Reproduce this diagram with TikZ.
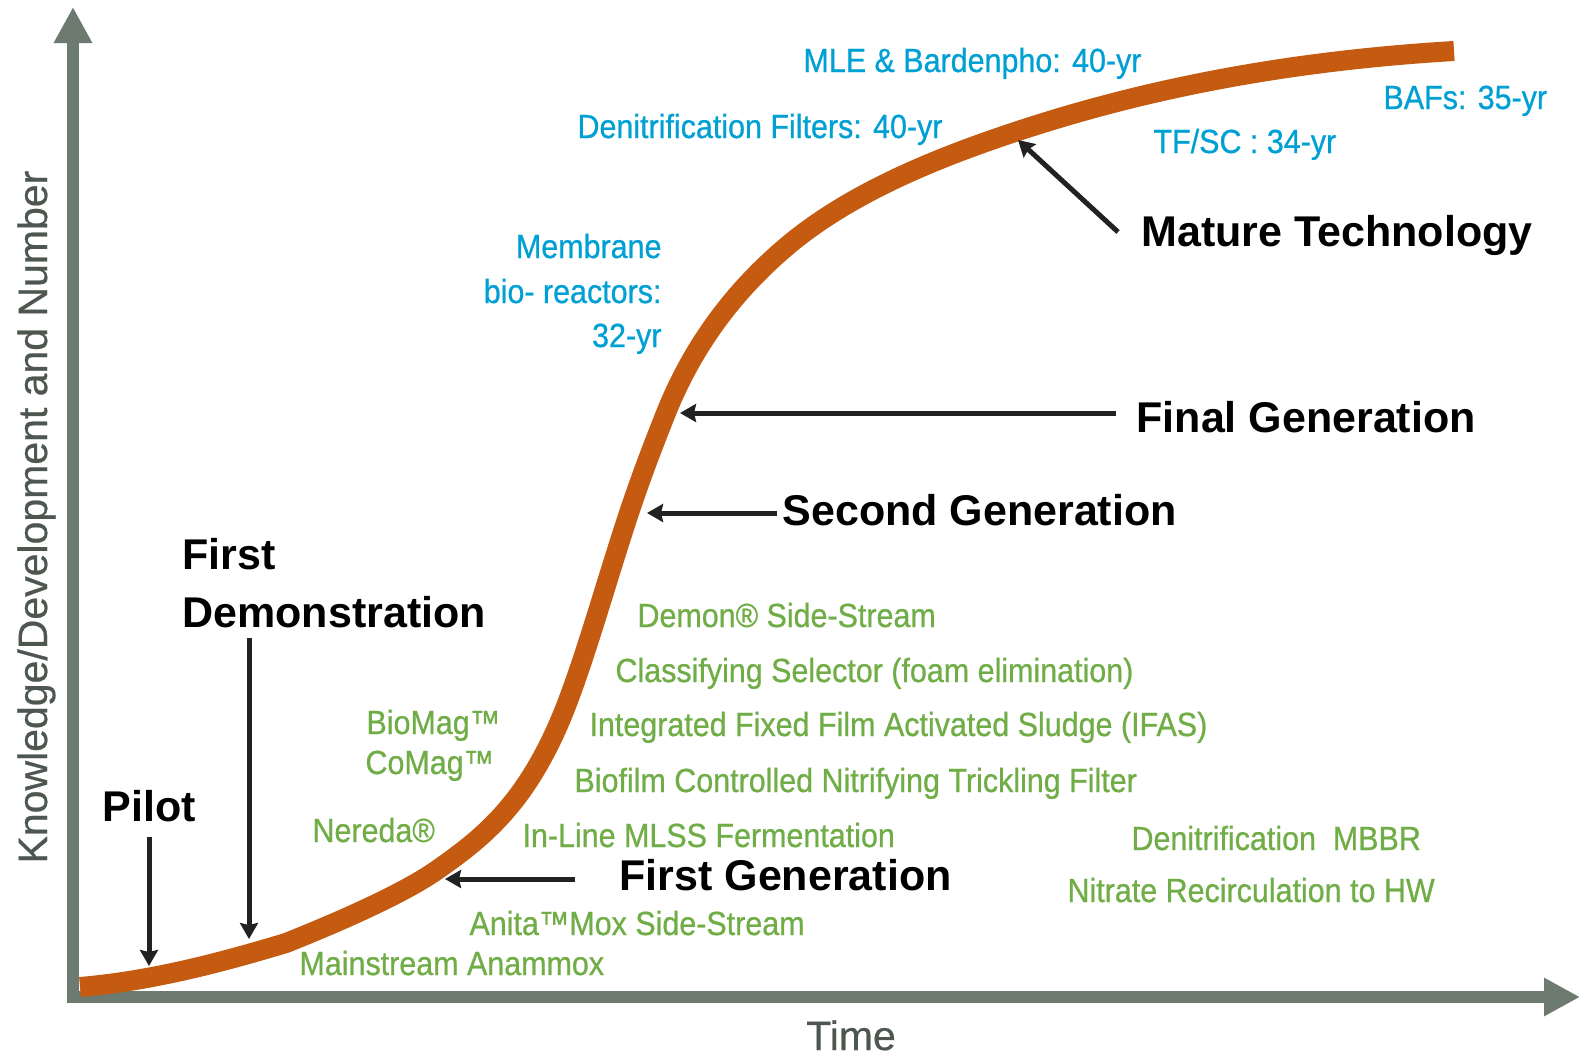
\documentclass[tikz,border=0pt]{standalone}
\usepackage{fontspec}
\setmainfont{Liberation Sans}
\newfontfamily\narrowfont[FakeStretch=0.91,FakeBold=0.7]{Liberation Sans}
\newfontfamily\axisfont[FakeBold=0.5]{Liberation Sans}
\usetikzlibrary{arrows.meta}

\definecolor{axisgray}{RGB}{109,122,112}
\definecolor{axistext}{RGB}{77,87,80}
\definecolor{curveorange}{RGB}{197,90,17}
\definecolor{techgreen}{RGB}{112,173,71}
\definecolor{ageblue}{RGB}{0,160,212}
\definecolor{arrowblack}{RGB}{34,34,34}

\tikzset{every picture/.style={line width=0.75pt}}
\tikzset{
  greenlbl/.style={anchor=base west, inner sep=0pt, text=techgreen, font=\narrowfont\fontsize{25.1}{30}\selectfont},
  bluelbl/.style={anchor=base west, inner sep=0pt, text=ageblue, font=\narrowfont\fontsize{25.1}{30}\selectfont},
  genlbl/.style={anchor=base west, inner sep=0pt, font=\bfseries\fontsize{32.25}{38}\selectfont},
  axislbl/.style={anchor=base, inner sep=0pt, text=axistext, font=\axisfont\fontsize{30.75}{36}\selectfont},
  pointer/.style={draw=arrowblack, line width=3.75pt, -{Stealth[length=12pt,width=13.5pt,inset=1.5pt]}},
  axisline/.style={draw=axisgray, line width=9pt, {Triangle[length=27pt,width=27pt]}-{Triangle[length=27pt,width=27pt]}}
}

\begin{document}
\begin{tikzpicture}[x=0.75pt,y=0.75pt,yscale=-1,xscale=1]
\useasboundingbox (0,0) rectangle (1581,1057);

% axes
\coordinate (ytip) at (73,7);
\coordinate (xtip) at (1580,997);
\draw [axisline] (ytip) |- (xtip);
\node [axislbl, rotate=90] (ylabel) at (47,517) {Knowledge/Development and Number};
\node [axislbl] (xlabel) at (851,1050) {Time};

% s-curve
\draw [curveorange, line width=15pt] (80,987) .. controls (150,981) and (216,964) .. (286,943)
  .. controls (336,923) and (402,894.5) .. (437,870)
  .. controls (482,838.5) and (521,807) .. (556,730)
  .. controls (580.3,676.5) and (604.7,585.9) .. (629,513)
  .. controls (641.3,476.1) and (653.7,443.8) .. (666,413)
  .. controls (698,333) and (746,281) .. (786,247)
  .. controls (851,191.75) and (940.7,156.5) .. (1018,131)
  .. controls (1163.3,83) and (1308.7,59.7) .. (1454,51);

% stages
\node [genlbl] (pilot) at (102,821) {Pilot};
\node [genlbl] (demo1) at (182,569) {First};
\node [genlbl] (demo2) at (182,627) {Demonstration};
\node [genlbl] (firstgen) at (619,890) {First Generation};
\node [genlbl] (secondgen) at (782,525) {Second Generation};
\node [genlbl] (finalgen) at (1136,432) {Final Generation};
\node [genlbl] (mature) at (1141,246) {Mature Technology};

\coordinate (pilotA) at (149,837);
\coordinate (pilotB) at (149,966);
\coordinate (demoA) at (249,638);
\coordinate (demoB) at (249,939);
\coordinate (firstA) at (575,879);
\coordinate (firstB) at (445,879);
\coordinate (secondA) at (777,513);
\coordinate (secondB) at (647,513);
\coordinate (finalA) at (1116,413);
\coordinate (finalB) at (680,413);
\coordinate (matureA) at (1118,232);
\coordinate (matureB) at (1018,140);

\draw [pointer] (pilotA) -- (pilotB);
\draw [pointer] (demoA) -- (demoB);
\draw [pointer] (firstA) -- (firstB);
\draw [pointer] (secondA) -- (secondB);
\draw [pointer] (finalA) -- (finalB);
\draw [pointer] (matureA) -- (matureB);

% established processes
\node [bluelbl] (mle) at (803,72) {MLE \& Bardenpho: 40-yr};
\node [bluelbl, anchor=base east] (denitf) at (943,138) {Denitrification Filters: 40-yr};
\node [bluelbl] (bafs) at (1383,109) {BAFs: 35-yr};
\node [bluelbl] (tfsc) at (1153,153) {TF/SC : 34-yr};
\node [bluelbl, anchor=base east] (mbr1) at (662,258) {Membrane};
\node [bluelbl, anchor=base east] (mbr2) at (662,303) {bio- reactors:};
\node [bluelbl, anchor=base east] (mbr3) at (662,347) {32-yr};

% emerging processes
\node [greenlbl] (demon) at (637,627) {Demon® Side-Stream};
\node [greenlbl] (selector) at (615,682) {Classifying Selector (foam elimination)};
\node [greenlbl] (ifas) at (589,736) {Integrated Fixed Film Activated Sludge (IFAS)};
\node [greenlbl] (biofilm) at (574,792) {Biofilm Controlled Nitrifying Trickling Filter};
\node [greenlbl] (inline) at (522,847) {In-Line MLSS Fermentation};
\node [greenlbl] (mbbr) at (1131,850) {Denitrification~~MBBR};
\node [greenlbl] (nitrate) at (1067,902) {Nitrate Recirculation to HW};
\node [greenlbl] (anita) at (469,935) {Anita™Mox Side-Stream};
\node [greenlbl] (mainstream) at (299,975) {Mainstream Anammox};
\node [greenlbl] (biomag) at (366,734) {BioMag™};
\node [greenlbl] (comag) at (365,774) {CoMag™};
\node [greenlbl] (nereda) at (312,842) {Nereda®};

\end{tikzpicture}
\end{document}
